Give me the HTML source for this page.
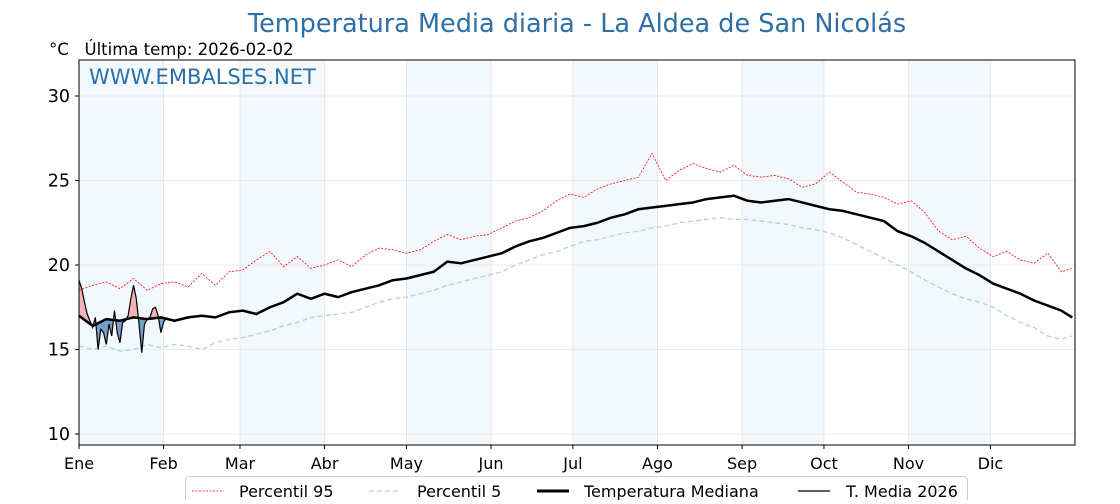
<!DOCTYPE html>
<html><head><meta charset="utf-8"><style>
body{margin:0;background:#fff;width:1120px;height:500px;overflow:hidden;font-family:"DejaVu Sans","Liberation Sans",sans-serif}
svg text{font-family:"DejaVu Sans","Liberation Sans",sans-serif}
</style></head><body>
<svg id="chart" width="1120" height="500"></svg>
<script>
const months=["Ene","Feb","Mar","Abr","May","Jun","Jul","Ago","Sep","Oct","Nov","Dic"];
const monthStart=[0,31,59,90,120,151,181,212,243,273,304,334];
const yTicks=[10,15,20,25,30];
const median=[17.0,16.4,16.8,16.7,16.9,16.8,16.9, 16.7,16.9,17.0,16.9,17.2, 17.3,17.1,17.5,17.8,18.3,18.0, 18.3,18.1,18.4,18.6,18.8,19.1, 19.2,19.4,19.6,20.2,20.1,20.3, 20.5,20.7,21.1,21.4,21.6,21.9, 22.2,22.3,22.5,22.8,23.0,23.3,23.4, 23.5,23.6,23.7,23.9,24.0,24.1, 23.8,23.7,23.8,23.9,23.7,23.5, 23.3,23.2,23.0,22.8,22.6,22.0, 21.7,21.3,20.8,20.3,19.8,19.4, 18.9,18.6,18.3,17.9,17.6,17.3,16.9];
const p95=[18.5,18.8,19.0,18.6,19.2,18.5,18.9, 19.0,18.7,19.5,18.8,19.6, 19.7,20.3,20.8,19.9,20.5,19.8, 20.0,20.3,19.9,20.6,21.0,20.9, 20.7,20.9,21.4,21.8,21.5,21.7, 21.8,22.2,22.6,22.8,23.2,23.8, 24.2,24.0,24.5,24.8,25.0,25.2,26.6, 25.0,25.6,26.0,25.7,25.5,25.9, 25.3,25.2,25.3,25.1,24.6,24.8, 25.5,24.9,24.3,24.2,24.0,23.6, 23.8,23.1,22.0,21.5,21.7,21.0, 20.5,20.8,20.3,20.1,20.7,19.6,19.8];
const p5=[15.2,15.0,15.2,14.9,15.0,15.3,15.1, 15.3,15.2,15.0,15.4,15.6, 15.7,15.9,16.1,16.4,16.6,16.9, 17.0,17.1,17.2,17.5,17.8,18.0, 18.1,18.3,18.5,18.8,19.0,19.2, 19.4,19.6,20.0,20.3,20.6,20.8, 21.1,21.4,21.5,21.7,21.9,22.0,22.2, 22.3,22.5,22.6,22.7,22.8,22.7, 22.7,22.6,22.5,22.4,22.2,22.1, 21.9,21.6,21.2,20.8,20.4,20.0, 19.6,19.1,18.7,18.3,18.0,17.8, 17.5,17.0,16.6,16.3,15.8,15.6,15.8];
const t2026=[19.1,18.6,17.8,17.1,16.7,16.3,16.9,15.0,16.2,16.0,15.3,16.5,15.8,17.3,16.0,15.4,16.6,16.7,17.0,18.0,18.8,18.0,16.5,14.8,16.5,16.8,16.9,17.4,17.5,17.0,16.0,16.6,16.9];

const NS="http://www.w3.org/2000/svg";
const svg=document.getElementById('chart');
const L=79,R=1075,T=60,B=445;
const x=d=>L+(R-L)*d/365;
const y=v=>96+(30-v)*16.9;
const days=median.map((_,i)=>i<73?i*5:364);
function el(tag,attrs,parent){const e=document.createElementNS(NS,tag);for(const k in attrs)e.setAttribute(k,attrs[k]);(parent||svg).appendChild(e);return e;}
function medAt(d){for(let i=0;i<days.length-1;i++){if(d<=days[i+1]){const f=(d-days[i])/(days[i+1]-days[i]);return median[i]+f*(median[i+1]-median[i]);}}return median[median.length-1];}

for(let m=0;m<12;m+=2){const x0=x(monthStart[m]),x1=x(monthStart[m+1]);
const b=el('rect',{x:x0,y:T,width:x1-x0,height:B-T,fill:'#f3f8fc'});

}
yTicks.forEach(v=>{const g=el('line',{x1:L,x2:R,y1:y(v),y2:y(v),stroke:'#e4e4e4','stroke-width':0.8});

});
monthStart.forEach(d=>{const g=el('line',{x1:x(d),x2:x(d),y1:T,y2:B,stroke:'#e4e4e4','stroke-width':0.8});

});

function pathOf(ds,vs){return vs.map((v,i)=>(i?'L':'M')+x(ds[i]).toFixed(2)+','+y(v).toFixed(2)).join('');}
const tDays=t2026.map((_,i)=>i);
const defs=el('defs',{});
const mdPts=[];for(let d=0;d<=40;d+=1)mdPts.push(x(d)+','+y(medAt(d)));
const cpA=el('clipPath',{id:'above'},defs);el('polygon',{points:mdPts.join(' ')+' '+x(40)+','+T+' '+x(0)+','+T},cpA);
const cpB=el('clipPath',{id:'below'},defs);el('polygon',{points:mdPts.join(' ')+' '+x(40)+','+B+' '+x(0)+','+B},cpB);
let fp=pathOf(tDays,t2026);for(let d=t2026.length-1;d>=0;d--)fp+='L'+x(d)+','+y(medAt(d));fp+='Z';
const fa=el('path',{d:fp,fill:'#f0a8a8','fill-opacity':0.85,'clip-path':'url(#above)'});


const fb=el('path',{d:fp,fill:'#3d7ab5','fill-opacity':0.7,'clip-path':'url(#below)'});



const s95=el('path',{d:pathOf(days,p95),fill:'none',stroke:'#ff0000','stroke-width':0.8,'stroke-dasharray':'2,1.5'});


const s5=el('path',{d:pathOf(days,p5),fill:'none',stroke:'#a8d4e0','stroke-width':1.3,'stroke-dasharray':'5,3'});


const sm=el('path',{d:pathOf(days,median),fill:'none',stroke:'#000','stroke-width':2.5,'stroke-linejoin':'round'});


const st=el('path',{d:pathOf(tDays,t2026),fill:'none',stroke:'#000','stroke-width':1.2});



const fr=el('rect',{x:L,y:T,width:R-L,height:B-T,fill:'none',stroke:'#000','stroke-width':1});


yTicks.forEach(v=>{el('line',{x1:L-4,x2:L,y1:y(v),y2:y(v),stroke:'#000'});
const t=el('text',{x:L-9,y:y(v)+6,'text-anchor':'end','font-size':17.5});t.textContent=v;

});
months.forEach((m,i)=>{el('line',{x1:x(monthStart[i]),x2:x(monthStart[i]),y1:B,y2:B+4,stroke:'#000'});
const t=el('text',{x:x(monthStart[i]),y:B+24,'text-anchor':'middle','font-size':16});t.textContent=m;

});

function txt(s,a,name){const t=el('text',a);t.textContent=s;t.setAttribute('xml:space','preserve');t.style.whiteSpace='pre';return t;}
txt('Temperatura Media diaria - La Aldea de San Nicolás',{x:577,y:32,'text-anchor':'middle','font-size':25.5,fill:'#2e6fa6'},'chart-title');
txt('°C   Última temp: 2026-02-02',{x:49,y:55,'font-size':16.5},'subtitle');
txt('WWW.EMBALSES.NET',{x:89,y:84,'font-size':21,fill:'#2e6fa6'},'watermark');

const lg=el('rect',{x:185.5,y:476.5,width:782,height:30,rx:4,fill:'#fff',stroke:'#ccc'});


const items=[['Percentil 95',192,239,{stroke:'#ff0000','stroke-width':0.8,'stroke-dasharray':'2,1.5'}],
['Percentil 5',369,417,{stroke:'#a8d4e0','stroke-width':1.3,'stroke-dasharray':'5,3'}],
['Temperatura Mediana',537,584,{stroke:'#000','stroke-width':3}],
['T. Media 2026',798,846,{stroke:'#000','stroke-width':1.2}]];
items.forEach(([n,x0,tx,st])=>{el('line',Object.assign({x1:x0,x2:x0+32,y1:491,y2:491},st));
txt(n,{x:tx,y:497,'font-size':16},'legend-entry');});
</script>
</body></html>
